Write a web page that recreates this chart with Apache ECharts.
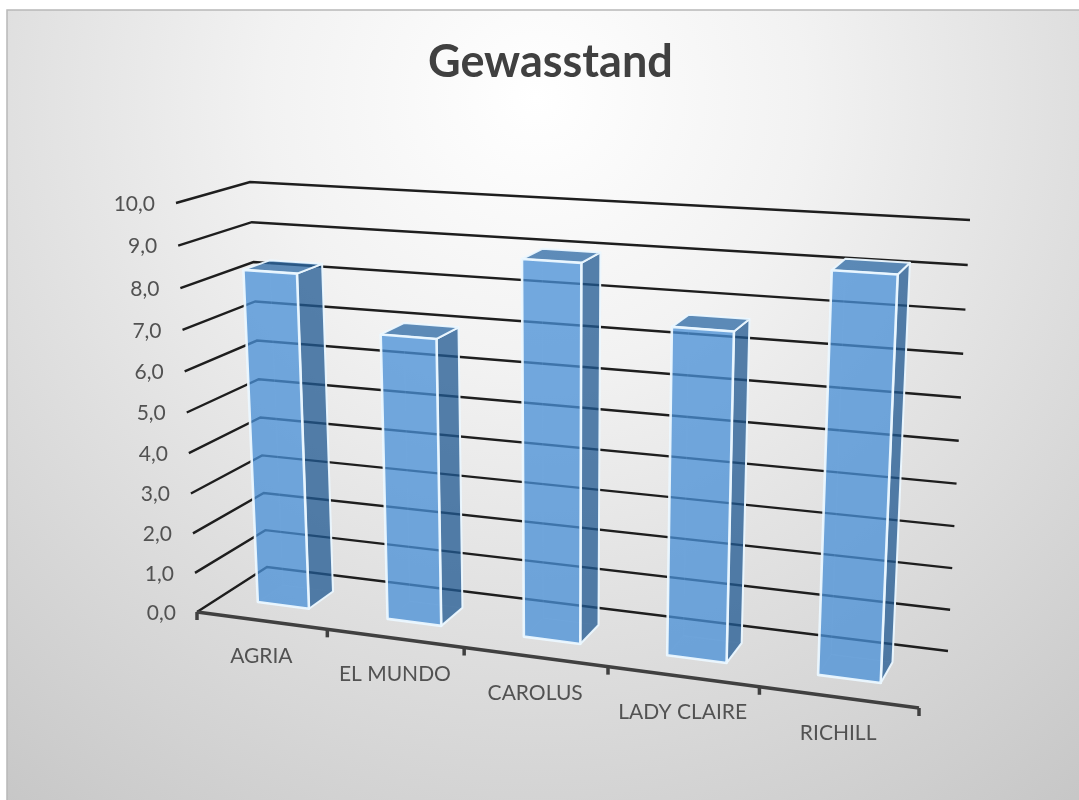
<!DOCTYPE html>
<html><head><meta charset="utf-8">
<style>html,body{margin:0;padding:0;background:#fff}#c{width:1079px;height:800px}</style>
<script src="https://cdn.jsdelivr.net/npm/echarts@6/dist/echarts.min.js"></script></head>
<body><div id="c"></div>
<script>
const chartTitle = 'Gewasstand';
const categories = ['AGRIA','EL MUNDO','CAROLUS','LADY CLAIRE','RICHILL'];
const values = [8.3,7.0,9.0,7.7,9.2];
const tickValues = [0,1,2,3,4,5,6,7,8,9,10];
const tickLabels = ['0,0','1,0','2,0','3,0','4,0','5,0','6,0','7,0','8,0','9,0','10,0'];

// screen position of the eight corners of the 3D plot box
const box = {
  flb:[197,612], frb:[919,708], blb:[267,567], brb:[948,651],
  flt:[176,203], frt:[940,250], blt:[250,182], brt:[970,220]
};
const K = 1.135, KV = 1.05, D0 = 0.33, D1 = 0.70, BAR = 0.4;
function lerp(a,b,t){return [a[0]+(b[0]-a[0])*t,a[1]+(b[1]-a[1])*t];}
// x: 0..1 along categories, v: 0..1 along value axis, d: 0..1 depth
function P(x,v,d){
  const t = x/(x+(1-x)*K);
  const u = v/(v+(1-v)*KV);
  const f = lerp(lerp(box.flb,box.frb,t),lerp(box.flt,box.frt,t),u);
  const b = lerp(lerp(box.blb,box.brb,t),lerp(box.blt,box.brt,t),u);
  return lerp(f,b,d);
}
const font = '21px Lato, sans-serif', textCol = '#525252';

function nx(api,px){return px/api.getWidth();}
function nv(api,py){return 1-py/api.getHeight();}

function renderGrid(params,api){
  const v = nv(api,api.coord([categories[0],api.value(0)])[1]);
  const a=P(0,v,0), b=P(0,v,1), c=P(1,v,1);
  return {type:'group',children:[
    {type:'polyline',shape:{points:[a,b,c]},style:{fill:null,stroke:'#1e1e1e',lineWidth:2.4}},
    {type:'text',style:{text:tickLabels[params.dataIndex],x:a[0]-21,y:a[1]+1,align:'right',verticalAlign:'middle',font:font,fill:textCol}}
  ]};
}
function renderAxis(params,api){
  const i = api.value(0);
  const c = api.coord([i,0]);
  const w = api.size([1,0])[0];
  const l = P(nx(api,c[0]-w/2),0,0), m = P(nx(api,c[0]),0,0);
  const ch=[{type:'line',shape:{x1:l[0],y1:l[1],x2:l[0],y2:l[1]+8},style:{stroke:'#404040',lineWidth:3.5}},
    {type:'text',style:{text:categories[i],x:m[0],y:m[1]+36,align:'center',verticalAlign:'middle',font:font,fill:textCol}}];
  if(i===categories.length-1){
    const r=P(nx(api,c[0]+w/2),0,0);
    ch.push({type:'line',shape:{x1:r[0],y1:r[1],x2:r[0],y2:r[1]+8},style:{stroke:'#404040',lineWidth:3.5}});
  }
  if(i===0){ch.push({type:'line',shape:{x1:box.flb[0],y1:box.flb[1],x2:box.frb[0],y2:box.frb[1]},style:{stroke:'#404040',lineWidth:3.5}});}
  return {type:'group',children:ch};
}
function poly(pts,fill,stroke,lw){return {type:'polygon',shape:{points:pts},style:{fill:fill,stroke:stroke,lineWidth:lw,lineJoin:'round'}};}
function renderBar(params,api){
  const c = api.coord([api.value(0),api.value(1)]);
  const w = api.size([1,0])[0]*BAR;
  const x0=nx(api,c[0]-w/2), x1=nx(api,c[0]+w/2), v=nv(api,c[1]);
  const q=P;
  const faint='rgba(255,255,255,0.16)';
  const edge='rgba(236,248,255,0.95)';
  return {type:'group',children:[
    poly([q(x0,0,D1),q(x1,0,D1),q(x1,v,D1),q(x0,v,D1)],'rgba(0,0,0,0)',faint,1),
    poly([q(x0,0,D0),q(x1,0,D0),q(x1,0,D1),q(x0,0,D1)],'rgba(255,255,255,0.04)',faint,1),
    poly([q(x1,0,D0),q(x1,0,D1),q(x1,v,D1),q(x1,v,D0)],'rgba(33,89,146,0.76)',edge,2),
    poly([q(x0,v,D0),q(x1,v,D0),q(x1,v,D1),q(x0,v,D1)],'rgba(45,105,164,0.76)',edge,2),
    poly([q(x0,0,D0),q(x1,0,D0),q(x1,v,D0),q(x0,v,D0)],'rgba(72,143,214,0.76)',edge,2.6)
  ]};
}

const chart = echarts.init(document.getElementById('c'),null,{renderer:'canvas'});
chart.setOption({
  animation:false,
  title:{text:chartTitle,left:423,top:35,textStyle:{fontFamily:'Lato',fontWeight:'bold',fontSize:45,color:'#404040'}},
  grid:{left:0,right:0,top:0,bottom:0},
  xAxis:{type:'category',data:categories,show:false},
  yAxis:{type:'value',min:0,max:10,interval:1,show:false},
  graphic:[{type:'rect',z:-10,silent:true,shape:{x:7,y:10,width:1080,height:800},
    style:{stroke:'#b8b8b8',lineWidth:1.5,fill:{type:'radial',x:0.49,y:0.11,r:1.12,colorStops:[
      {offset:0,color:'#ffffff'},{offset:0.3,color:'#f2f2f2'},{offset:1,color:'#c6c6c6'}]}}}],
  series:[
    {type:'custom',silent:true,z:1,data:tickValues.map(v=>[v]),encode:{y:0},renderItem:renderGrid},
    {type:'custom',silent:true,z:2,data:categories.map((c,i)=>[i]),encode:{x:0},renderItem:renderAxis},
    {type:'custom',silent:true,z:3,data:categories.map((c,i)=>[i,values[i]]),encode:{x:0,y:1},renderItem:renderBar}
  ]
});
</script></body></html>
